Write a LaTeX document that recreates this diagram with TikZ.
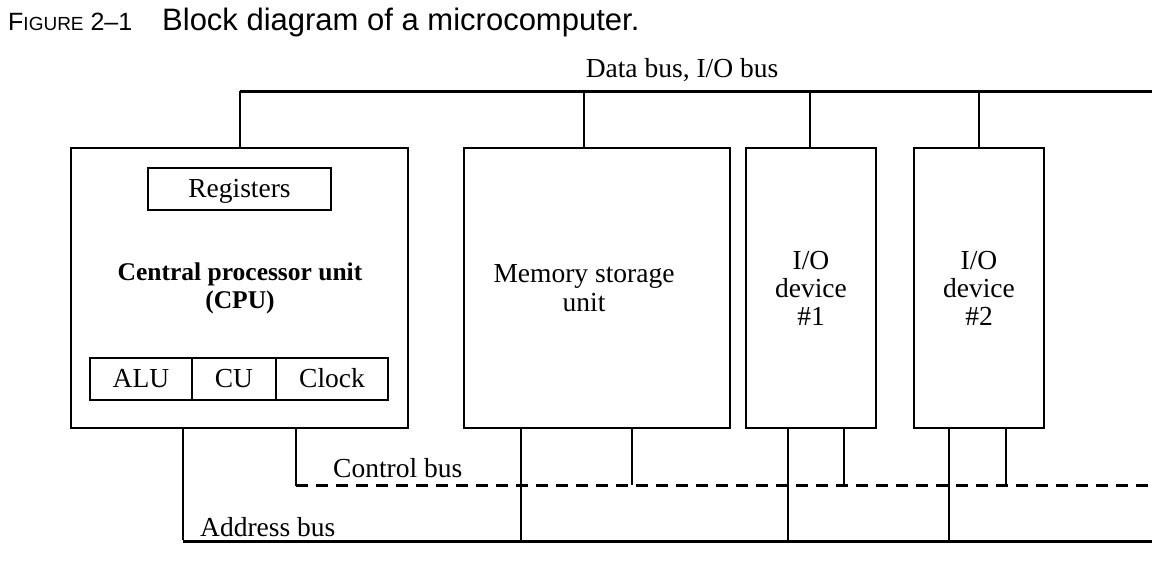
\documentclass[tikz,border=0pt]{standalone}
\usepackage{fontspec}
\setmainfont{Liberation Serif}
\newfontfamily\titlefont{Liberation Sans}
\begin{document}
\begin{tikzpicture}[x=1pt,y=-1pt,
  box/.style={draw, line width=1.6pt, inner sep=0pt, align=center,
    font=\fontsize{27.5}{28}\selectfont},
  small/.style={box, minimum height=42pt, text height=21pt, text depth=4pt},
  lbl/.style={inner sep=0pt, font=\fontsize{27.5}{29}\selectfont},
  bus/.style={line width=3pt},
  drop/.style={line width=2.6pt},
  cbus/.style={line width=3pt, dash pattern=on 12pt off 8pt}]
\useasboundingbox (0,0) rectangle (1170,562);
% title
\node[anchor=base west, inner sep=0pt, font=\titlefont] (fig) at (8,30)
  {\fontsize{25}{25}\selectfont F\fontsize{19}{19}\selectfont IGURE\fontsize{25}{25}\selectfont\ 2–1};
\node[anchor=base west, inner sep=0pt, font=\titlefont\fontsize{31}{31}\selectfont] (title) at (162,30)
  {Block diagram of a microcomputer.};
% boxes
\node[box, minimum width=337pt, minimum height=280pt] (cpu) at (239.5,288) {};
\node[small, minimum width=183pt] (reg) at (239.5,189) {Registers};
\node[lbl, align=center, font=\bfseries\fontsize{25.5}{28}\selectfont] (cputxt) at (240,288)
  {Central processor unit\\(CPU)};
\node[small, minimum width=102pt] (alu) at (141,379) {ALU};
\node[small, minimum width=84pt] (cu) at (234,379) {CU};
\node[small, minimum width=112pt] (clk) at (332,379) {Clock};
\node[box, minimum width=266pt, minimum height=280pt] (mem) at (597,288) {};
\node[lbl, align=center] (memtxt) at (584,288) {Memory storage\\unit};
\node[box, minimum width=130pt, minimum height=280pt] (io1) at (811,288) {I/O\\device\\\#1};
\node[box, minimum width=130pt, minimum height=280pt] (io2) at (979,288) {I/O\\device\\\#2};
% data bus
\coordinate (dL) at (240,91);
\coordinate (dR) at (1152,91);
\coordinate (dm) at (584,91);
\coordinate (d1) at (810,91);
\coordinate (d2) at (979,91);
\draw[bus] (dL) -- (dR);
\draw[drop] (dL) -- (dL |- cpu.north);
\draw[drop] (dm) -- (dm |- mem.north);
\draw[drop] (d1) -- (d1 |- io1.north);
\draw[drop] (d2) -- (d2 |- io2.north);
\node[lbl, anchor=base] (dlbl) at (682,77) {Data bus, I/O bus};
% control bus
\coordinate (cL) at (296,485);
\coordinate (cR) at (1152,485);
\coordinate (cm) at (632,485);
\coordinate (c1) at (844,485);
\coordinate (c2) at (1006,485);
\draw[cbus] (cL) -- (cR);
\draw[drop, line cap=rect] (cL |- cpu.south) -- (cL);
\draw[drop] (cm |- mem.south) -- (cm);
\draw[drop] (c1 |- io1.south) -- (c1);
\draw[drop] (c2 |- io2.south) -- (c2);
\node[lbl, anchor=base west] (clbl) at (333,477) {Control bus};
% address bus
\coordinate (aL) at (183,541);
\coordinate (aR) at (1152,541);
\coordinate (am) at (521,541);
\coordinate (a1) at (788,541);
\coordinate (a2) at (949,541);
\draw[bus] (aL) -- (aR);
\draw[drop] (aL |- cpu.south) -- ([yshift=1.5pt]aL);
\draw[drop] (am |- mem.south) -- (am);
\draw[drop] (a1 |- io1.south) -- (a1);
\draw[drop] (a2 |- io2.south) -- (a2);
\node[lbl, anchor=base west] (albl) at (200,536) {Address bus};
\end{tikzpicture}
\end{document}
